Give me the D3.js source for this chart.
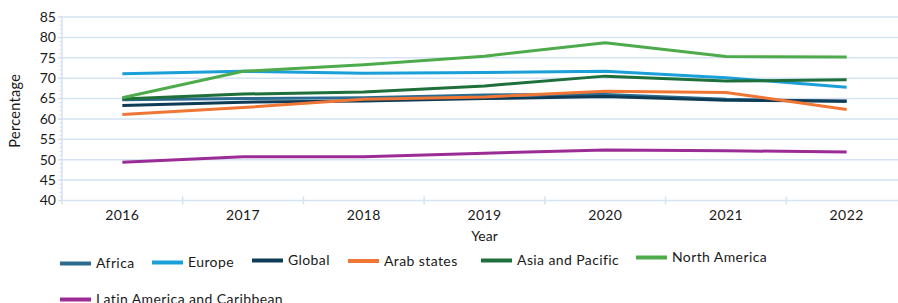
<!DOCTYPE html>
<html><head><meta charset="utf-8">
<script src="https://cdn.jsdelivr.net/npm/d3@7"></script>
<style>
html,body{margin:0;padding:0;background:#fff;}
svg{display:block;font-family:Lato, "Noto Sans", sans-serif;}
</style></head>
<body><svg id="c" width="898" height="303"></svg>
<script>
const years = ["2016","2017","2018","2019","2020","2021","2022"];
const seriesNames = ["Africa","Europe","Global","Arab states","Asia and Pacific","North America","Latin America and Caribbean"];
const seriesColors = ["#2b6b8f","#1a9fd9","#0e3b55","#ef7634","#1f6f3b","#4eab4b","#9c2c95"];
const africa   = [64.7, 65.0, 65.2, 65.9, 66.0, 64.8, 64.3];
const europe   = [71.1, 71.7, 71.2, 71.4, 71.7, 70.1, 67.8];
const global   = [63.3, 64.1, 64.4, 65.0, 65.5, 64.6, 64.4];
const arab     = [61.1, 62.8, 64.8, 65.4, 66.8, 66.5, 62.3];
const asia     = [64.9, 66.1, 66.6, 68.1, 70.5, 69.3, 69.6];
const northAm  = [65.2, 71.7, 73.3, 75.4, 78.7, 75.3, 75.2];
const latinAm  = [49.4, 50.7, 50.7, 51.6, 52.4, 52.2, 51.9];
const yTicks = [40,45,50,55,60,65,70,75,80,85];
const allValues = [africa, europe, global, arab, asia, northAm, latinAm];

(function(){
const svg = d3.select("#c");
const pL = 62, pR = 907, pT = 17, pB = 200.5;
const x = d3.scaleBand().domain(years).range([pL, pR]);
const y = d3.scaleLinear().domain([40,85]).range([pB, pT]);
const grid = "#d5e3f3";

svg.append("g").selectAll("line").data(yTicks).join("line")
  .attr("x1", pL-4).attr("x2", 898)
  .attr("y1", d=>y(d)).attr("y2", d=>y(d))
  .attr("stroke", grid).attr("stroke-width", 1.5);

svg.append("line").attr("x1", pL).attr("x2", pL).attr("y1", pT).attr("y2", pB)
  .attr("stroke", grid).attr("stroke-width", 1.5);
svg.append("g").selectAll("line").data(d3.range(40,86,1)).join("line")
  .attr("x1", pL-2.5).attr("x2", pL)
  .attr("y1", d=>y(d)).attr("y2", d=>y(d))
  .attr("stroke", "#c9d6e4").attr("stroke-width", 0.8);

const bounds = years.map(d=>x(d)).concat([pR]);
svg.append("g").selectAll("line").data(bounds).join("line")
  .attr("x1", d=>d).attr("x2", d=>d).attr("y1", pB-4).attr("y2", pB+4)
  .attr("stroke", grid).attr("stroke-width", 1.5);

svg.append("g").selectAll("text").data(yTicks).join("text")
  .attr("x", pL-6).attr("y", d=>y(d)).attr("dy","0.35em")
  .attr("text-anchor","end").attr("font-size",14).attr("fill","#1a1a1a")
  .text(d=>d);
svg.append("g").selectAll("text").data(years).join("text")
  .attr("x", d=>x(d)+x.bandwidth()/2).attr("y", 215).attr("dy","0.35em")
  .attr("text-anchor","middle").attr("font-size",14).attr("letter-spacing",0.4).attr("fill","#1a1a1a")
  .text(d=>d);
svg.append("text").attr("x", (pL+pR)/2).attr("y", 236).attr("dy","0.35em")
  .attr("text-anchor","middle").attr("font-size",14).attr("fill","#1a1a1a").text("Year");
svg.append("text").attr("transform", `translate(15,${(pT+pB)/2+2}) rotate(-90)`)
  .attr("dy","0.35em").attr("text-anchor","middle").attr("font-size",14.5).attr("letter-spacing",0.3).attr("fill","#1a1a1a").text("Percentage");

const line = d3.line().x((d,i)=>x(years[i])+x.bandwidth()/2).y(d=>y(d)).curve(d3.curveLinear);
svg.append("g").selectAll("path").data(allValues).join("path")
  .attr("d", d=>line(d)).attr("fill","none")
  .attr("stroke", (d,i)=>seriesColors[i]).attr("stroke-width", 3)
  .attr("stroke-linejoin","round");

const legendPos = [[60,263.5],[152,262.5],[252,260.5],[348,261],[481,260.5],[636,257.5],[60,299.5]];
const lg = svg.append("g").selectAll("g").data(seriesNames).join("g")
  .attr("transform", (d,i)=>`translate(${legendPos[i][0]},${legendPos[i][1]})`);
lg.append("line").attr("x1",0).attr("x2",31).attr("y1",0).attr("y2",0)
  .attr("stroke",(d,i)=>seriesColors[i]).attr("stroke-width",4);
lg.append("text").attr("x",36).attr("y",0).attr("dy","0.35em")
  .attr("font-size",14).attr("letter-spacing",0.4).attr("fill","#1a1a1a").text(d=>d);
})();
</script></body></html>
